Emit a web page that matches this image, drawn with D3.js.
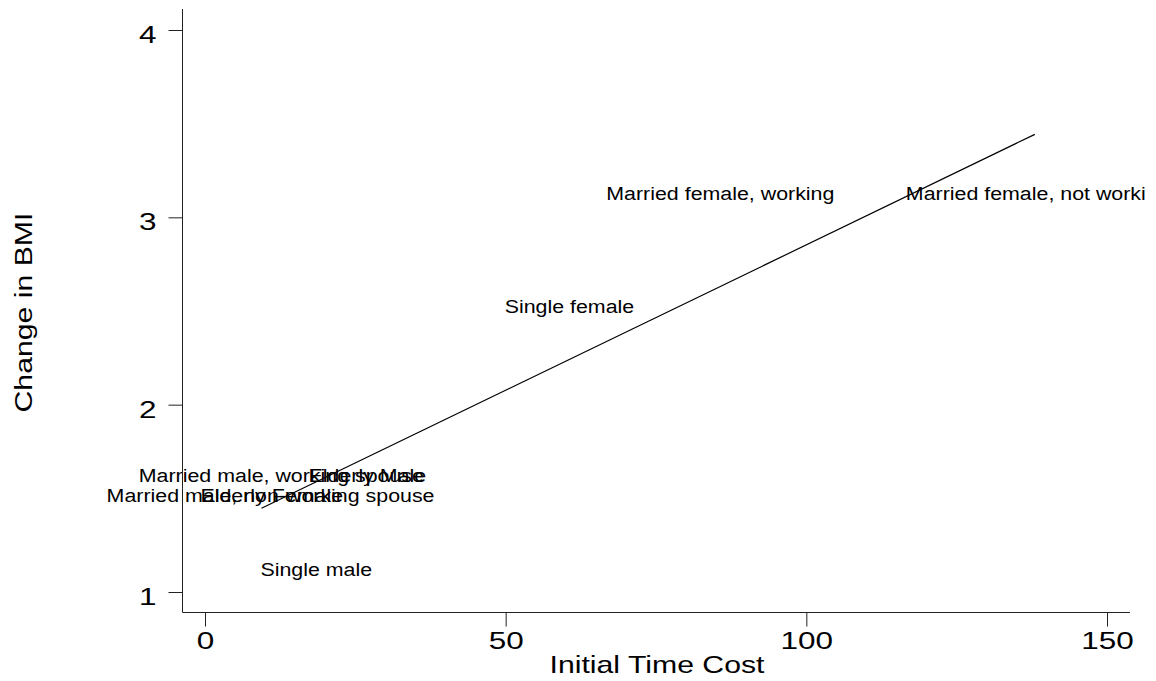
<html>
<script src='https://d3js.org/d3.v7.min.js'></script>
<style>
body { margin: 0; background: #fff; }
text { font-family: 'Liberation Sans', Arial, sans-serif; fill: #000; }
</style>
<body onload='init()'>
<svg width=1156 height=681></svg>

<script>
// marker labels (groups) and their positions
var groups = ["Single male", "Single female", "Married male, working spouse",
              "Married male, non-working spouse", "Married female, working",
              "Married female, not worki", "Elderly Male", "Elderly Female"];
var timeCost  = [18.5, 60.6, 12.7, 10.9, 85.7, 136.5, 27.0, 11.1];
var bmiChange = [1.120, 2.527, 1.625, 1.518, 3.130, 3.130, 1.625, 1.518];

// fitted line end points
var fitX = [9.4, 138.0];
var fitY = [1.447, 3.443];

var xTicks = [0, 50, 100, 150];
var yTicks = [1, 2, 3, 4];

function init() {
    var svg = d3.select("svg");

    // Set scales
    var xScale = d3.scaleLinear().domain([0, 150]).range([205, 1107]);
    var yScale = d3.scaleLinear().domain([1, 4]).range([592, 30]);

    var axisX = 182.5, axisY = 612.5;
    var kTick = 1.33, kLab = 1.15, kTitle = 1.26;

    // axis lines
    svg.append("line").attr("x1", axisX).attr("x2", axisX).attr("y1", 9).attr("y2", axisY)
        .attr("stroke", "#222").attr("stroke-width", 1);
    svg.append("line").attr("x1", axisX).attr("x2", 1130).attr("y1", axisY).attr("y2", axisY)
        .attr("stroke", "#222").attr("stroke-width", 1);

    // y axis
    var gy = svg.append("g")
        .attr("transform", "translate(" + axisX + ",0)")
        .call(d3.axisLeft(yScale).tickValues(yTicks).tickFormat(d3.format("d"))
              .tickSize(14).tickSizeOuter(0).tickPadding(12));
    gy.select(".domain").remove();
    gy.selectAll("line").attr("stroke", "#222");
    gy.selectAll("text")
        .attr("x", -26 / kTick).attr("dy", "0.53em")
        .attr("transform", "scale(" + kTick + ",1)")
        .style("font-size", "23.7px").style("font-family", "'Liberation Sans', Arial, sans-serif");

    // x axis
    var gx = svg.append("g")
        .attr("transform", "translate(0," + axisY + ")")
        .call(d3.axisBottom(xScale).tickValues(xTicks).tickFormat(d3.format("d"))
              .tickSize(14).tickSizeOuter(0));
    gx.select(".domain").remove();
    gx.selectAll("line").attr("stroke", "#222");
    gx.selectAll("text")
        .attr("y", 36.5).attr("dy", 0)
        .attr("transform", "scale(" + kTick + ",1)")
        .style("font-size", "23.7px").style("font-family", "'Liberation Sans', Arial, sans-serif");

    // fitted line
    var line = d3.line().x(function(d) { return xScale(d[0]); }).y(function(d) { return yScale(d[1]); });
    svg.append("path")
        .attr("d", line(d3.zip(fitX, fitY)))
        .attr("fill", "none").attr("stroke", "#000").attr("stroke-width", 1.2);

    // marker labels, centred on the points
    svg.append("g").selectAll("text")
        .data(d3.range(groups.length))
        .enter()
        .append("text")
        .attr("transform", function(i) {
            return "translate(" + xScale(timeCost[i]) + "," + yScale(bmiChange[i]) + ") scale(" + kLab + ",1)";
        })
        .attr("text-anchor", "middle")
        .attr("dy", "0.36em")
        .style("font-size", "18.6px")
        .text(function(i) { return groups[i]; });

    // axis titles
    svg.append("text")
        .attr("transform", "translate(657,673) scale(" + kTitle + ",1)")
        .attr("text-anchor", "middle")
        .style("font-size", "24px")
        .text("Initial Time Cost");

    svg.append("text")
        .attr("transform", "translate(31.5,312.5) rotate(-90) scale(" + kTitle + ",1)")
        .attr("text-anchor", "middle")
        .style("font-size", "24px")
        .text("Change in BMI");
}
</script>
</body>
</html>
